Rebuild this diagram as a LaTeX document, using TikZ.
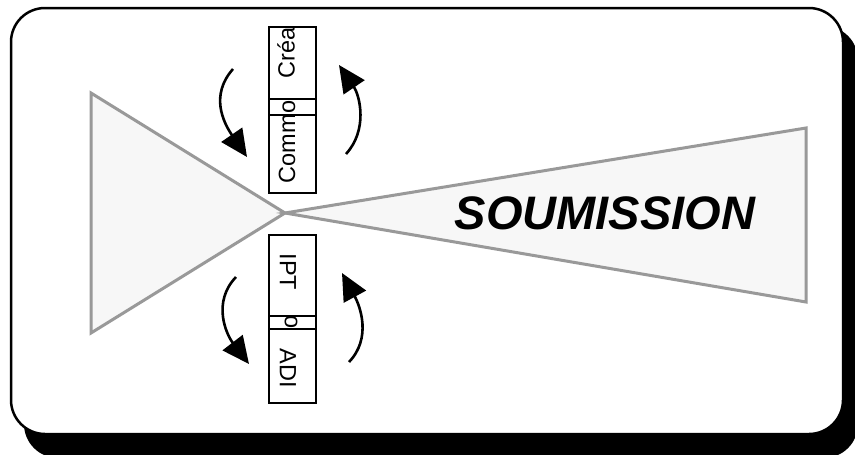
\documentclass[tikz,border=0pt]{standalone}
\usepackage{fontspec}
\setmainfont{Liberation Sans}
\usetikzlibrary{arrows.meta}
\begin{document}
\begin{tikzpicture}[x=1pt,y=-1pt,
  frame/.style={line width=2.5pt, rounded corners=34pt},
  funnel/.style={draw=black!40, fill=black!3, line width=3pt, line join=miter},
  phasebox/.style={draw, line width=2pt, minimum width=47pt, inner sep=0pt},
  divider/.style={line width=2pt},
  lbl/.style={font=\fontsize{23.5}{28}\selectfont, inner sep=0pt},
  turn/.style={line width=2.6pt, -{Triangle[length=27pt,width=25pt]}}]
\useasboundingbox (0,0) rectangle (855,455);
\clip (0,0) rectangle (855,455);
% drop shadow and frame
\fill[rounded corners=34pt] (24,26) rectangle (858,458);
\draw[frame, fill=white] (11,8) rectangle (843,434);
% funnel shapes
\coordinate (apex) at (285,213);
\coordinate (ltop) at (91,93);
\coordinate (lbot) at (91,333);
\coordinate (rtop) at (806,128);
\coordinate (rbot) at (806,302);
\draw[funnel] (ltop) -- (apex) -- (lbot) -- cycle;
\draw[funnel] (apex) -- (rtop) -- (rbot) -- cycle;
\node[font=\fontsize{47}{56}\selectfont\bfseries\itshape, inner sep=0pt] (soum) at (605,213) {SOUMISSION};
% upper phase box
\node[phasebox, minimum height=166pt] (upper) at (292.5,110) {};
\coordinate (u1l) at (269,99);  \coordinate (u1r) at (316,99);
\coordinate (u2l) at (269,115); \coordinate (u2r) at (316,115);
\node[lbl, rotate=90] (crea) at (286,53) {Créa};
\node[lbl, rotate=90] (commo) at (287,142) {Commo};
\draw[divider] (u1l) -- (u1r);
\draw[divider] (u2l) -- (u2r);
% lower phase box
\node[phasebox, minimum height=168pt] (lower) at (292.5,319) {};
\coordinate (l1l) at (269,316); \coordinate (l1r) at (316,316);
\coordinate (l2l) at (269,329); \coordinate (l2r) at (316,329);
\node[lbl, rotate=-90] (ipt) at (288,272) {IPT};
\node[lbl, rotate=-90] (lo) at (291,322) {o};
\node[lbl, rotate=-90] (adi) at (288,368) {ADI};
\draw[divider] (l1l) -- (l1r);
\draw[divider] (l2l) -- (l2r);
% cycle arrows
\coordinate (a1s) at (233,69);  \coordinate (a1e) at (247,157);
\coordinate (a2s) at (346,154); \coordinate (a2e) at (339,65);
\coordinate (a3s) at (236,277); \coordinate (a3e) at (249,364);
\coordinate (a4s) at (349,362); \coordinate (a4e) at (342,273);
\draw[turn] (a1s) .. controls (210,95) and (223,122) .. (a1e);
\draw[turn] (a2s) .. controls (368,130) and (360,96) .. (a2e);
\draw[turn] (a3s) .. controls (212,302) and (226,334) .. (a3e);
\draw[turn] (a4s) .. controls (372,338) and (360,306) .. (a4e);
\end{tikzpicture}
\end{document}
